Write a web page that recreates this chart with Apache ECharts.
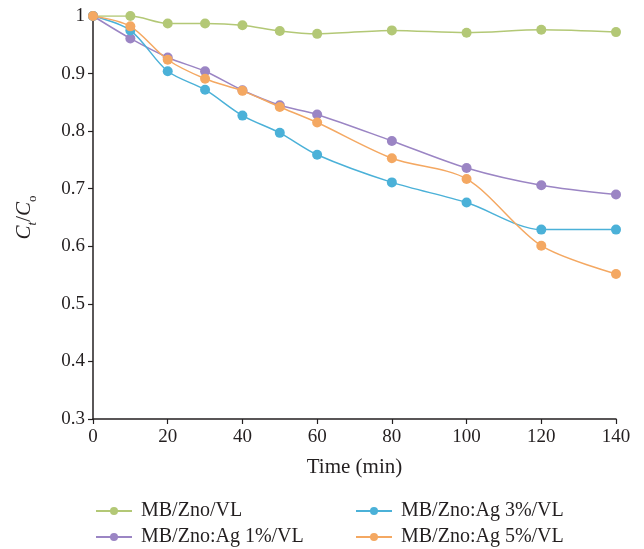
<!DOCTYPE html>
<html>
<head>
<meta charset="utf-8">
<script src="https://cdn.jsdelivr.net/npm/echarts@6/dist/echarts.min.js"></script>
<style>html,body{margin:0;padding:0;background:#fff}#c{width:644px;height:549px}</style>
</head>
<body>
<div id="c"></div>
<script>
const times = [0, 10, 20, 30, 40, 50, 60, 80, 100, 120, 140];
const seriesNames = ['MB/Zno/VL', 'MB/Zno:Ag 1%/VL', 'MB/Zno:Ag 3%/VL', 'MB/Zno:Ag 5%/VL'];
const znoVL = [1.0, 1.0, 0.987, 0.987, 0.984, 0.974, 0.969, 0.975, 0.971, 0.976, 0.972];
const ag1 = [1.0, 0.961, 0.928, 0.904, 0.871, 0.845, 0.829, 0.783, 0.736, 0.706, 0.690];
const ag3 = [1.0, 0.975, 0.904, 0.872, 0.827, 0.797, 0.759, 0.711, 0.676, 0.629, 0.629];
const ag5 = [1.0, 0.982, 0.924, 0.891, 0.870, 0.842, 0.815, 0.753, 0.717, 0.601, 0.552];
const colors = ['#b3c876', '#9b85c4', '#4bb1d8', '#f4a862'];
const xTicks = [0, 20, 40, 60, 80, 100, 120, 140];
const yTicks = [0.3, 0.4, 0.5, 0.6, 0.7, 0.8, 0.9, 1];

const font = 'Liberation Serif';
const ink = '#231f20';
const allData = [znoVL, ag1, ag3, ag5];
const chart = echarts.init(document.getElementById('c'), null, {renderer: 'canvas'});
const axisLine = {show: true, lineStyle: {color: ink, width: 1.5}};
const legendPos = [[95, 501], [95, 527], [355, 501], [355, 527]];
chart.setOption({
  animation: false,
  backgroundColor: '#fff',
  textStyle: {fontFamily: font},
  grid: {left: 93, right: 28, top: 16, bottom: 130, containLabel: false, outerBoundsMode: 'none'},
  xAxis: {
    type: 'value', min: 0, max: 140, interval: 20,
    axisLine: axisLine,
    axisTick: {show: true, inside: false, length: 5, lineStyle: {color: ink, width: 1.2}},
    axisLabel: {color: ink, fontSize: 19, fontFamily: font, margin: 9,
      formatter: v => xTicks.includes(v) ? String(v) : ''},
    splitLine: {show: false},
    name: 'Time (min)', nameLocation: 'middle', nameGap: 38,
    nameTextStyle: {color: ink, fontSize: 21, fontFamily: font}
  },
  yAxis: {
    type: 'value', min: 0.3, max: 1, interval: 0.1,
    axisLine: axisLine,
    axisTick: {show: true, inside: false, length: 5, lineStyle: {color: ink, width: 1.2}},
    axisLabel: {color: ink, fontSize: 19, fontFamily: font, margin: 8,
      formatter: v => {
        const r = Math.round(v * 10) / 10;
        return yTicks.includes(r) ? (r === 1 ? '1' : r.toFixed(1)) : '';
      }},
    splitLine: {show: false},
    name: '{i|C}{s|t}{n|/}{i|C}{u|o}', nameLocation: 'middle', nameGap: 54, nameRotate: 90,
    nameTextStyle: {
      color: ink, fontSize: 21, fontFamily: font,
      rich: {
        i: {fontSize: 21, fontStyle: 'italic', fontFamily: font, color: ink, verticalAlign: 'top', lineHeight: 25},
        n: {fontSize: 21, fontFamily: font, color: ink, verticalAlign: 'top', lineHeight: 25},
        s: {fontSize: 13, fontStyle: 'italic', fontFamily: font, color: ink, verticalAlign: 'bottom', lineHeight: 25},
        u: {fontSize: 13, fontFamily: font, color: ink, verticalAlign: 'bottom', lineHeight: 25}
      }
    }
  },
  legend: seriesNames.map((n, k) => ({
    left: legendPos[k][0], top: legendPos[k][1], orient: 'horizontal',
    itemWidth: 36, itemHeight: 10, padding: 0,
    data: [n],
    textStyle: {fontSize: 20, fontFamily: font, color: ink, padding: [0, 0, 0, 4]}
  })),
  series: seriesNames.map((n, k) => ({
    name: n, type: 'line', smooth: 0.3,
    data: times.map((t, i) => [t, allData[k][i]]),
    symbol: 'circle', symbolSize: 10,
    itemStyle: {color: colors[k]},
    lineStyle: {color: colors[k], width: 1.5},
    z: k === 3 ? 5 : 2
  }))
});
</script>
</body>
</html>
